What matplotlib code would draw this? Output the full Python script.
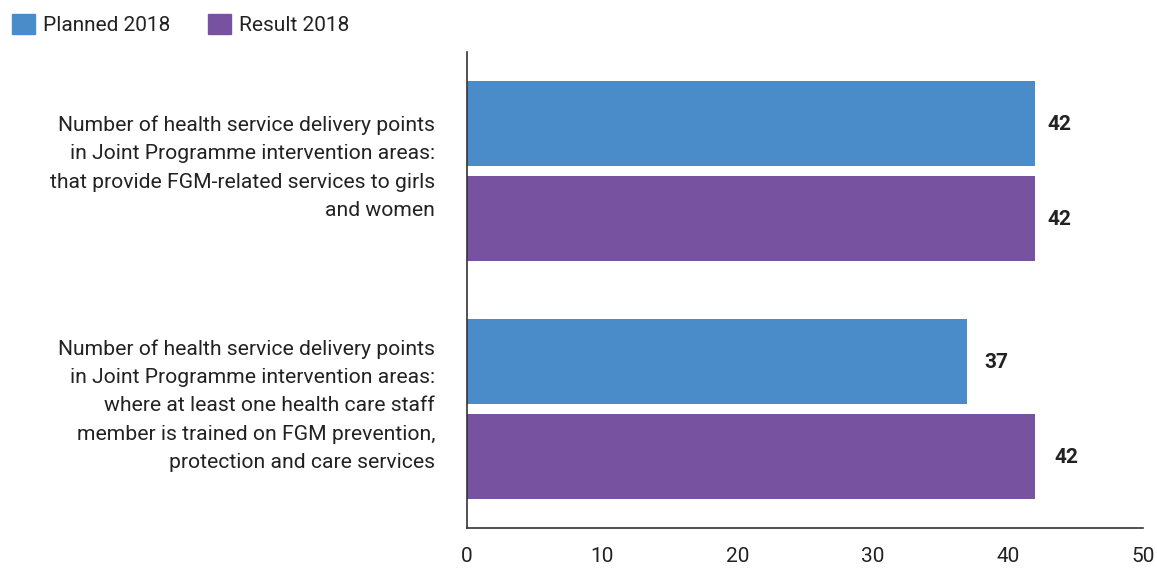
import matplotlib
matplotlib.use("Agg")
import matplotlib.pyplot as plt
from matplotlib.patches import Patch
from matplotlib.transforms import ScaledTranslation
import numpy as np

plt.rcParams['font.family'] = ['Roboto', 'DejaVu Sans']

categories = [
    "Number of health service delivery points\nin Joint Programme intervention areas:\nthat provide FGM-related services to girls\nand women",
    "Number of health service delivery points\nin Joint Programme intervention areas:\nwhere at least one health care staff\nmember is trained on FGM prevention,\nprotection and care services",
]
series_names = ["Planned 2018", "Result 2018"]
planned = [42, 37]
result = [42, 42]
xticks = [0, 10, 20, 30, 40, 50]

colors = ["#4A8BC9", "#7652A1"]

W, H = 1157, 568
fig = plt.figure(figsize=(W / 100, H / 100), dpi=100)
left, right, top, bottom = 467, 1143, 52, 528
ax = fig.add_axes([left / W, 1 - bottom / H, (right - left) / W, (bottom - top) / H])

y = np.arange(len(categories))
off = 0.2
h = 0.36
b1 = ax.barh(y - off, planned, height=h, color=colors[0], label=series_names[0])
b2 = ax.barh(y + off, result, height=h, color=colors[1], label=series_names[1])

ax.set_ylim(1.5, -0.5)
ax.set_xlim(0, 50)
ax.set_xticks(xticks)
ax.set_xticklabels([str(t) for t in xticks], fontsize=15, color="#222222")
ax.tick_params(axis='x', length=0, pad=14)
ax.set_yticks(y)
ax.set_yticklabels(categories, fontsize=15.2, color="#222222", linespacing=1.63, ha='right')
ax.tick_params(axis='y', length=0, pad=23)
shift = ScaledTranslation(0, 0.1, fig.dpi_scale_trans)
for lab in ax.get_yticklabels():
    lab.set_transform(lab.get_transform() + shift)

for s in ['top', 'right']:
    ax.spines[s].set_visible(False)
for s in ['left', 'bottom']:
    ax.spines[s].set_color("#333333")
    ax.spines[s].set_linewidth(1.2)

for bars, offs in ((b1, [18, 21]), (b2, [18, 23])):
    for rect, v, o in zip(bars, [r.get_width() for r in bars], offs):
        ax.annotate(str(int(v)), (v, rect.get_y() + rect.get_height() / 2),
                    xytext=(o, -1), textcoords='offset points',
                    ha='center', va='center', fontsize=15, fontweight='bold', color="#222222")

handles = [Patch(color=colors[0], label=series_names[0]), Patch(color=colors[1], label=series_names[1])]
fig.legend(handles=handles, loc='upper left', bbox_to_anchor=(12 / W, 1 - 14 / H), ncol=2,
           frameon=False, fontsize=15, handlelength=1.1, handleheight=1.1,
           handletextpad=0.4, columnspacing=1.8, borderaxespad=0, borderpad=0,
           labelcolor="#222222")

fig.savefig("out.png", dpi=100)
